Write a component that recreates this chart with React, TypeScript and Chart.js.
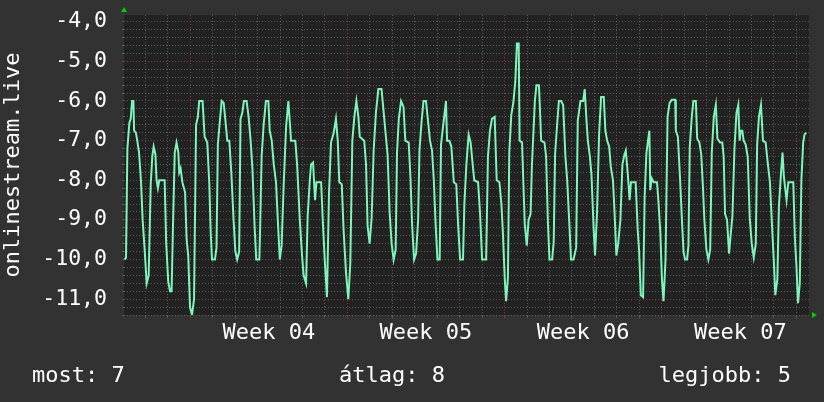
import React, { useEffect, useRef } from "react";
import { Chart, registerables } from "chart.js";

Chart.register(...registerables);

const yTitle = "onlinestream.live";
const weekLabels = ["Week 04", "Week 05", "Week 06", "Week 07"];
const weekCenters = [5.5, 12.5, 19.5, 26.5];
const weekStarts = [2, 9, 16, 23];
const legendTexts = ["most: 7", "átlag: 8", "legjobb: 5"];

// time in days, value
const days = [
  -0.93, -0.86, -0.8, -0.71, -0.65, -0.59, -0.53, -0.5, -0.42, -0.36, -0.28, -0.19, -0.12, -0.03,
  0.06, 0.15, 0.24, 0.31, 0.37, 0.45, 0.5, 0.56, 0.62, 0.86, 0.93,
  1.02, 1.1, 1.17, 1.23, 1.31, 1.39, 1.47, 1.51, 1.57, 1.65, 1.77, 1.84, 1.91, 1.99,
  2.08, 2.17, 2.26, 2.34, 2.4, 2.55, 2.64, 2.76, 2.85, 2.91, 2.97,
  3.1, 3.17, 3.23, 3.32, 3.4, 3.49, 3.56, 3.65, 3.74, 3.83, 3.93,
  4.01, 4.09, 4.18, 4.24, 4.32, 4.39, 4.51, 4.6, 4.69, 4.77, 4.87, 4.94,
  5.08, 5.11, 5.18, 5.27, 5.37, 5.48, 5.54, 5.63, 5.72, 5.82, 5.9, 5.99,
  6.07, 6.16, 6.27, 6.37, 6.45, 6.49, 6.68, 6.76, 6.88, 6.98,
  7.05, 7.16, 7.23, 7.32, 7.38, 7.47, 7.56, 7.62, 7.83, 7.91,
  8.0, 8.09, 8.18, 8.27, 8.39, 8.49, 8.57, 8.64, 8.75, 8.83, 8.94,
  9.04, 9.13, 9.22, 9.31, 9.4, 9.49, 9.55, 9.75, 9.83, 9.9, 9.99,
  10.08, 10.17, 10.27, 10.38, 10.52, 10.61, 10.69, 10.79, 10.88, 10.97,
  11.06, 11.15, 11.21, 11.29, 11.39, 11.5, 11.58, 11.73, 11.81, 11.88, 11.97,
  12.06, 12.15, 12.21, 12.3, 12.39, 12.5, 12.59, 12.68, 12.77, 12.85, 12.92,
  13.01, 13.11, 13.17, 13.29, 13.39, 13.44, 13.54, 13.63, 13.74, 13.85, 13.93,
  14.02, 14.15, 14.21, 14.3, 14.4, 14.49, 14.58, 14.65, 14.82, 14.91,
  15.0, 15.18, 15.26, 15.35, 15.44, 15.56, 15.65, 15.77, 15.86, 15.92,
  16.01, 16.07, 16.15, 16.21, 16.3, 16.39, 16.48, 16.55, 16.63, 16.67, 16.78, 16.84, 16.9, 16.99,
  17.07, 17.16, 17.22, 17.35, 17.42, 17.53, 17.57, 17.63, 17.78, 17.85, 17.93,
  18.0, 18.12, 18.19, 18.25, 18.34, 18.42, 18.52, 18.61, 18.71, 18.79, 18.89, 18.96,
  19.07, 19.19, 19.26, 19.38, 19.5, 19.57, 19.65, 19.71, 19.8, 19.87, 19.97,
  20.03, 20.12, 20.21, 20.3, 20.42, 20.49, 20.57, 20.66, 20.73, 20.83, 20.91, 20.98,
  21.06, 21.16, 21.25, 21.34, 21.4, 21.49, 21.57, 21.63, 21.84, 21.93, 21.99,
  22.07, 22.17, 22.24, 22.32, 22.39, 22.45, 22.49, 22.55, 22.64, 22.79, 22.85, 22.94,
  23.01, 23.08, 23.17, 23.26, 23.35, 23.45, 23.6, 23.63, 23.72, 23.82, 23.9, 23.97,
  24.04, 24.13, 24.19, 24.25, 24.34, 24.41, 24.52, 24.58, 24.68, 24.76, 24.83, 24.9, 24.99,
  25.08, 25.16, 25.23, 25.32, 25.41, 25.48, 25.6, 25.7, 25.76, 25.82, 25.91,
  26.0, 26.06, 26.15, 26.24, 26.33, 26.41, 26.47, 26.52, 26.59, 26.65, 26.74, 26.83, 26.92,
  27.01, 27.1, 27.19, 27.25, 27.33, 27.42, 27.51, 27.63, 27.71, 27.82, 27.9, 27.99,
  28.06, 28.15, 28.22, 28.31, 28.38, 28.44, 28.56, 28.64, 28.86, 28.93,
  29.0, 29.07, 29.15, 29.22, 29.3, 29.36, 29.44,
];

const values = [
  -10.0, -9.95, -7.2, -6.55, -6.45, -6.0, -6.0, -6.75, -6.8, -7.0, -7.3, -8.05, -9.0, -9.75,
  -10.6, -10.4, -8.1, -7.4, -7.15, -7.35, -8.0, -8.2, -8.0, -8.0, -9.6,
  -10.55, -10.8, -10.8, -9.2, -7.3, -7.05, -7.3, -7.8, -7.7, -8.05, -8.3, -9.5, -9.9, -11.2,
  -11.4, -11.0, -6.6, -6.4, -6.0, -6.0, -6.9, -7.05, -8.1, -9.3, -10.0,
  -10.0, -9.7, -7.1, -6.5, -6.0, -6.05, -6.45, -7.0, -7.0, -7.8, -9.0,
  -9.8, -10.0, -9.8, -6.45, -6.3, -6.0, -6.0, -6.4, -7.0, -7.7, -9.2, -10.0,
  -10.0, -9.3, -7.4, -6.6, -6.0, -6.0, -6.75, -7.0, -7.6, -8.05, -9.0, -10.0,
  -9.65, -8.15, -6.65, -6.0, -6.65, -7.0, -7.0, -7.6, -9.0, -9.9,
  -10.4, -10.6, -8.9, -8.05, -7.6, -7.55, -8.5, -8.05, -8.05, -9.1,
  -10.1, -10.95, -8.35, -7.05, -6.8, -6.45, -7.0, -8.05, -8.1, -9.25, -10.35,
  -11.0, -10.1, -7.0, -6.4, -6.0, -6.4, -6.9, -7.0, -7.6, -9.15, -9.6,
  -8.95, -7.25, -6.3, -5.7, -5.7, -6.25, -6.75, -7.35, -8.8, -9.6,
  -10.0, -9.75, -7.3, -6.45, -6.0, -6.15, -7.0, -7.05, -7.95, -9.1, -10.0,
  -9.85, -9.0, -7.25, -6.55, -6.0, -6.0, -6.5, -7.0, -7.25, -8.0, -9.0,
  -10.0, -10.0, -7.1, -6.5, -6.0, -7.0, -7.0, -7.15, -8.05, -8.1, -9.1,
  -10.0, -10.0, -8.6, -7.6, -6.85, -7.05, -7.6, -8.0, -8.05, -8.85,
  -10.0, -10.0, -7.4, -6.75, -6.45, -6.4, -8.0, -8.05, -8.6, -9.25,
  -10.5, -11.05, -10.45, -7.3, -6.35, -6.05, -5.5, -4.55, -4.55, -7.0, -7.05, -8.1, -9.1, -9.65,
  -9.0, -8.85, -7.6, -6.0, -5.6, -5.6, -6.1, -7.0, -7.05, -7.4, -9.05,
  -10.0, -10.0, -9.55, -7.35, -6.6, -6.0, -6.0, -6.1, -7.4, -8.0, -9.15, -10.0,
  -10.0, -9.7, -6.5, -6.0, -6.0, -5.7, -6.5, -7.0, -7.4, -7.85, -9.25,
  -9.9, -8.8, -6.85, -5.9, -5.9, -6.75, -7.0, -7.15, -7.65, -8.0, -8.95, -9.9,
  -9.6, -9.0, -7.6, -7.35, -7.25, -7.85, -8.5, -8.05, -8.05, -9.25, -9.75,
  -10.9, -10.95, -8.4, -7.3, -7.0, -6.75, -8.25, -7.95, -8.05, -8.05, -8.5, -9.35,
  -10.5, -11.05, -10.0, -6.4, -6.05, -5.97, -5.97, -6.75, -6.9, -8.0, -9.0, -9.8,
  -10.0, -10.0, -9.65, -7.15, -6.4, -6.0, -6.0, -6.95, -7.05, -7.35, -8.1, -9.0, -9.75,
  -10.0, -9.75, -7.3, -6.4, -6.1, -6.95, -7.05, -7.05, -7.4, -8.85, -9.0,
  -9.85, -9.45, -8.9, -7.2, -6.3, -6.1, -7.0, -6.75, -6.75, -7.0, -7.1, -7.4, -8.95,
  -9.6, -9.95, -9.6, -7.1, -6.4, -6.1, -7.0, -7.05, -7.5, -8.05, -9.0, -10.0,
  -10.9, -10.5, -8.65, -7.85, -7.3, -7.9, -8.5, -8.05, -8.05, -9.45,
  -10.15, -11.1, -10.6, -8.0, -7.05, -6.85, -6.8,
];

const X_MIN = -0.95;
const X_MAX = 29.56;
const Y_MIN = -11.4;
const Y_MAX = -3.83;

const FONT = "'DejaVu Sans Mono', monospace";
const BG = "#323232";
const PLOT_BG = "#222222";
const MINOR = "#5c5c5c";
const MAJOR = "#7a3c3c";
const LINE = "#7df5bb";

const isInt = (v: number) => Math.abs(v - Math.round(v)) < 1e-6;

const decor = {
  id: "decor",
  beforeDraw(chart: any) {
    const { ctx, chartArea } = chart;
    ctx.save();
    ctx.fillStyle = BG;
    ctx.fillRect(0, 0, chart.width, chart.height);
    ctx.fillStyle = PLOT_BG;
    ctx.fillRect(chartArea.left, chartArea.top, chartArea.right - chartArea.left, chartArea.bottom - chartArea.top);
    ctx.restore();
  },
  afterDraw(chart: any) {
    const { ctx, chartArea } = chart;
    ctx.save();
    ctx.fillStyle = "#00cc00";
    ctx.beginPath();
    ctx.moveTo(chartArea.left - 3, chartArea.top - 3);
    ctx.lineTo(chartArea.left + 3, chartArea.top - 3);
    ctx.lineTo(chartArea.left, chartArea.top - 8);
    ctx.closePath();
    ctx.fill();
    ctx.beginPath();
    ctx.moveTo(chartArea.right + 3, chartArea.bottom - 3);
    ctx.lineTo(chartArea.right + 3, chartArea.bottom + 3);
    ctx.lineTo(chartArea.right + 8, chartArea.bottom);
    ctx.closePath();
    ctx.fill();
    ctx.fillStyle = "#ffffff";
    ctx.font = `22px ${FONT}`;
    ctx.textBaseline = "alphabetic";
    ctx.textAlign = "left";
    ctx.fillText(legendTexts[0], 32, 382);
    ctx.textAlign = "center";
    ctx.fillText(legendTexts[1], 392, 382);
    ctx.textAlign = "right";
    ctx.fillText(legendTexts[2], 791, 382);
    ctx.restore();
  },
};

export default function App() {
  const ref = useRef<HTMLCanvasElement | null>(null);
  useEffect(() => {
    document.body.style.margin = "0";
    const canvas = ref.current!;
    const chart = new Chart(canvas, {
      type: "line",
      data: {
        datasets: [
          {
            data: days.map((d, i) => ({ x: d, y: values[i] })),
            borderColor: LINE,
            borderWidth: 2,
            pointRadius: 0,
            tension: 0,
            fill: false,
          },
        ],
      },
      options: {
        animation: false,
        responsive: false,
        devicePixelRatio: 1,
        layout: { padding: { top: 15, right: 15, left: 0, bottom: 0 } },
        plugins: { legend: { display: false }, tooltip: { enabled: false } },
        scales: {
          x: {
            type: "linear",
            min: X_MIN,
            max: X_MAX,
            afterBuildTicks: (s: any) => {
              const t: any[] = [];
              for (let k = Math.ceil(X_MIN * 2); k <= Math.floor(X_MAX * 2); k++) t.push({ value: k / 2 });
              s.ticks = t;
            },
            afterFit: (s: any) => {
              s.height = 87;
              s.paddingLeft = 0;
              s.paddingRight = 0;
            },
            border: { display: false, dash: [1, 2] },
            grid: {
              color: (c: any) => {
                const v = c.tick ? c.tick.value : 0;
                if (!isInt(v)) return "rgba(0,0,0,0)";
                return weekStarts.includes(Math.round(v)) ? MAJOR : MINOR;
              },
              lineWidth: 1,
              drawTicks: true,
              tickLength: 3,
            },
            ticks: {
              autoSkip: false,
              maxRotation: 0,
              minRotation: 0,
              padding: 2,
              color: "#ffffff",
              font: { family: FONT, size: 22 },
              callback: (v: any) => {
                const idx = weekCenters.findIndex((c) => Math.abs(c - Number(v)) < 1e-6);
                return idx >= 0 ? weekLabels[idx] : "";
              },
            },
          },
          y: {
            type: "linear",
            min: Y_MIN,
            max: Y_MAX,
            afterBuildTicks: (s: any) => {
              const t: any[] = [];
              for (let k = Math.ceil(Y_MIN * 5 - 1e-9); k <= Math.floor(Y_MAX * 5 + 1e-9); k++) t.push({ value: Math.round(k * 2) / 10 });
              s.ticks = t;
            },
            afterFit: (s: any) => {
              s.width = 124;
              s.paddingTop = 0;
              s.paddingBottom = 0;
            },
            border: { display: false, dash: [1, 2] },
            grid: {
              color: (c: any) => {
                const v = c.tick ? c.tick.value : 0;
                return isInt(v) ? MAJOR : MINOR;
              },
              lineWidth: 1,
              drawTicks: true,
              tickLength: 2,
            },
            title: {
              display: true,
              text: yTitle,
              color: "#ffffff",
              font: { family: FONT, size: 22 },
              padding: { top: 0, bottom: 0 },
            },
            ticks: {
              autoSkip: false,
              padding: 15,
              color: "#ffffff",
              font: { family: FONT, size: 21.5 },
              callback: (v: any) => {
                const n = Number(v);
                if (!isInt(n)) return "";
                return n.toFixed(1).replace(".", ",");
              },
            },
          },
        },
      },
      plugins: [decor],
    });
    return () => chart.destroy();
  }, []);
  return (
    <div style={{ width: 824, height: 402, background: BG }}>
      <canvas ref={ref} width={824} height={402} style={{ display: "block" }} />
    </div>
  );
}
